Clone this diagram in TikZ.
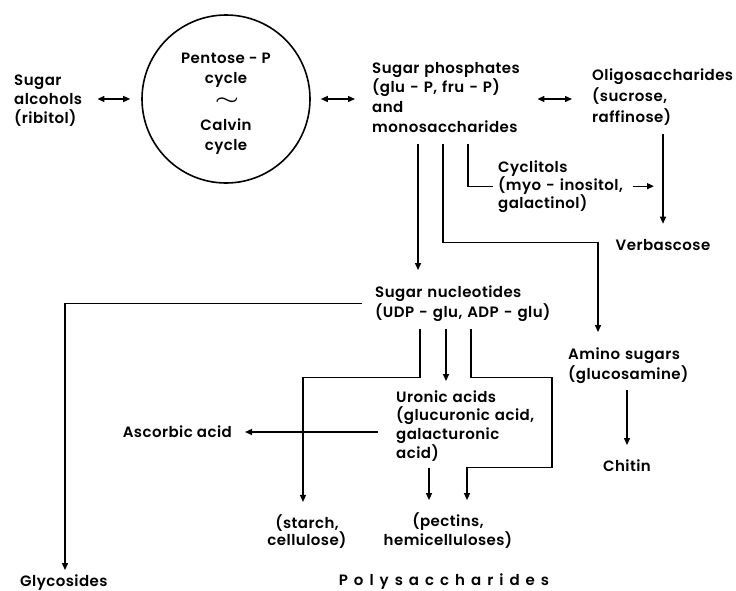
\documentclass[tikz,border=0pt]{standalone}
\usepackage{fontspec}
\setmainfont{Poppins}[UprightFont=* SemiBold,LetterSpace=3]
\usetikzlibrary{arrows.meta}

\begin{document}
\begin{tikzpicture}[x=1pt,y=-1pt,
  lbl/.style={inner sep=0pt,align=left,font=\fontsize{15}{#1}\selectfont},
  lbl/.default=19.5,
  lnk/.style={line width=1.3pt},
  arr/.style={lnk,-{Triangle[length=7pt,width=6pt]}},
  dbl/.style={lnk,{Triangle[length=7pt,width=6pt]}-{Triangle[length=7pt,width=6pt]}}]
  \useasboundingbox (0,0) rectangle (736,590);

  % the cycle
  \node[circle,draw,line width=1.6pt,minimum size=168pt,inner sep=0pt] (cyc) at (226,99) {};
  \node[lbl=20,align=center,anchor=base] (pent) at (226,83) {Pentose - P\\cycle};
  \node[inner sep=0pt] (tilde) at (227,101) {\scalebox{2.7}[1.7]{\boldmath$\sim$}};
  \node[lbl=20,align=center,anchor=base] (calv) at (226,150) {Calvin\\cycle};

  % top row
  \node[lbl=19,text width=75pt,anchor=base west] (alc) at (14,85) {Sugar\\alcohols\\(ribitol)};
  \node[lbl=19.7,text width=155pt,anchor=base west] (phos) at (372,73) {Sugar phosphates\\(glu - P, fru - P)\\and\\monosaccharides};
  \node[lbl=21,text width=150pt,anchor=base west] (oligo) at (592,80) {Oligosaccharides\\(sucrose,\\raffinose)};
  \node[lbl=18,text width=135pt,anchor=base west] (cycl) at (498,172) {Cyclitols\\(myo - inositol,\\galactinol)};
  \node[lbl,anchor=base] (verb) at (663,250) {Verbascose};

  % middle
  \node[lbl=20,text width=200pt,anchor=base west] (nuc) at (375,297) {Sugar nucleotides\\(UDP - glu, ADP - glu)};
  \node[lbl=20,text width=125pt,anchor=base west] (amino) at (568,359) {Amino sugars\\(glucosamine)};
  \node[lbl,anchor=base] (chit) at (627,471) {Chitin};
  \node[lbl=18.7,text width=160pt,anchor=base west] (uron) at (396,402) {Uronic acids\\(glucuronic acid,\\galacturonic\\acid)};
  \node[lbl,anchor=east] (asc) at (232,432) {Ascorbic acid};

  % bottom
  \node[lbl=17,align=center,anchor=base] (starch) at (307,545) {(starch,\\cellulose)};
  \node[lbl=17,align=center,anchor=base] (pect) at (448,545) {(pectins,\\hemicelluloses)};
  \node[lbl,anchor=base west] (gly) at (20,586) {Glycosides};
  \node[lbl,anchor=base] (poly) at (444,585) {\addfontfeature{LetterSpace=40}Polysaccharides};

  % exchanges
  \draw[dbl,shorten <=8pt,shorten >=11pt] (alc.east |- cyc) -- (cyc.west);
  \draw[dbl,shorten <=10pt,shorten >=17pt] (cyc.east) -- (phos.west |- cyc);
  \draw[dbl,shorten <=10pt,shorten >=20pt] (phos.east |- cyc) -- (oligo.west |- cyc);

  % from the sugar phosphates
  \draw[arr] ([xshift=46pt,yshift=-12pt]phos.south west) coordinate (p1) -- ([yshift=15pt]p1 |- nuc.north);
  \draw[arr] ([xshift=71pt,yshift=-12pt]phos.south west) -- ++(0,98) -| ([xshift=30pt,yshift=15pt]amino.north west);
  \draw[lnk] ([xshift=96pt,yshift=-12pt]phos.south west) |- ([xshift=-5pt]cycl.west);
  \draw[arr] ([yshift=-9pt]oligo.south -| verb.north) -- ([yshift=15pt]verb.north);
  \draw[arr,shorten >=9pt] (cycl.east) -- (cycl.east -| verb.north);

  % from the sugar nucleotides
  \draw[arr] ([xshift=-13pt]nuc.west) -| ([xshift=45pt,yshift=4pt]gly.north west);
  \draw[arr] ([xshift=45pt,yshift=-7.5pt]nuc.south west) -- ++(0,49) -| ([xshift=-4pt,yshift=12pt]starch.north);
  \draw[arr] ([xshift=71pt,yshift=-7.5pt]nuc.south west) coordinate (n2) -- ([yshift=9pt]n2 |- uron.north);
  \draw[arr] ([xshift=96pt,yshift=-7.5pt]nuc.south west) -- ++(0,49) -- ++(81,0) -- ++(0,90) -| ([xshift=19pt,yshift=12pt]pect.north);

  % uronic acids and amino sugars
  \draw[arr,shorten <=18pt,shorten >=13pt] (asc.east -| uron.west) -- (asc.east);
  \draw[arr] ([xshift=33pt,yshift=-6.5pt]uron.south west) coordinate (u1) -- ([yshift=12pt]u1 |- pect.north);
  \draw[arr] ([yshift=-7pt]amino.south -| chit.north) -- ([yshift=14pt]chit.north);
\end{tikzpicture}
\end{document}
